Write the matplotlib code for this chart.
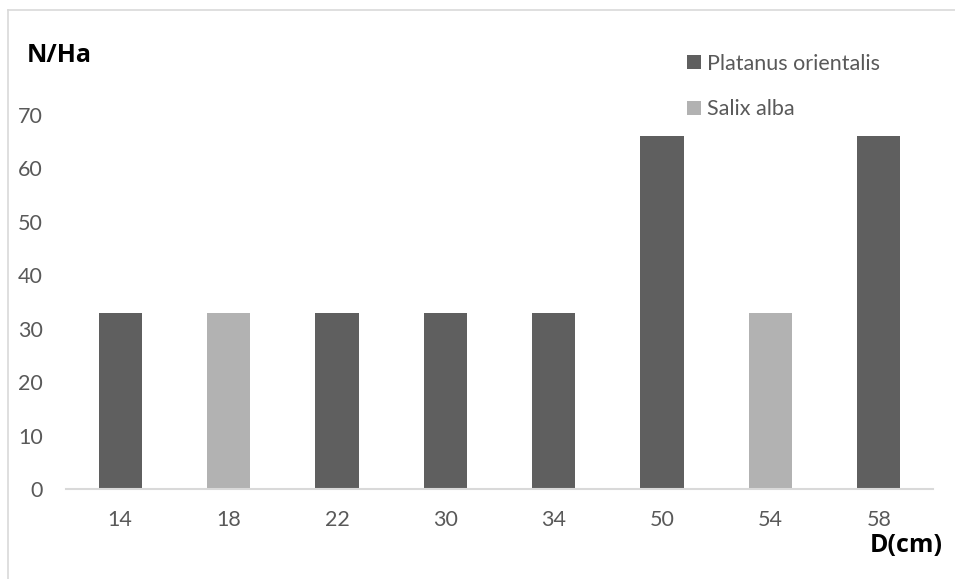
import matplotlib
matplotlib.use("Agg")
import matplotlib.pyplot as plt
from matplotlib.patches import Patch
from matplotlib.lines import Line2D

plt.rcParams['font.family'] = ['Lato', 'DejaVu Sans']

diameters = ["14", "18", "22", "30", "34", "50", "54", "58"]
platanus = [33, 0, 33, 33, 33, 66, 0, 66]
salix = [0, 33, 0, 0, 0, 0, 33, 0]
series_names = ["Platanus orientalis", "Salix alba"]
yticks = [0, 10, 20, 30, 40, 50, 60, 70]

dark = "#5f5f5f"
light = "#b2b2b2"
text_col = "#595959"

fig = plt.figure(figsize=(9.55, 5.79), dpi=100)
ax = fig.add_axes([66 / 955, 1 - 489 / 579, (933 - 66) / 955, (489 - 115) / 579])

x = list(range(len(diameters)))
ax.bar(x, platanus, width=0.4, color=dark, zorder=2)
ax.bar(x, salix, width=0.4, bottom=platanus, color=light, zorder=2)

ax.set_xlim(-0.5, len(diameters) - 0.5)
ax.set_ylim(0, 70)
ax.set_xticks(x)
ax.set_xticklabels(diameters)
ax.set_yticks(yticks)
ax.tick_params(axis='both', length=0, labelsize=15.5, labelcolor=text_col)
ax.tick_params(axis='y', pad=16.5)
ax.tick_params(axis='x', pad=15)
for side in ("top", "right", "left"):
    ax.spines[side].set_visible(False)
ax.spines["bottom"].set_color("#d9d9d9")
ax.spines["bottom"].set_linewidth(1.5)

# axis titles
title_font = dict(family=["Open Sans", "DejaVu Sans"], fontsize=18,
                  fontweight="bold", color="black")
fig.text(27 / 955, 1 - 55 / 579, "N/Ha", ha="left", va="center", **title_font)
fig.text(943 / 955, 1 - 546 / 579, "D(cm)", ha="right", va="center", **title_font)

# legend
handles = [Patch(facecolor=dark), Patch(facecolor=light)]
leg = fig.legend(handles, series_names, loc="upper left",
                 bbox_to_anchor=(678 / 955, 1 - 45 / 579), frameon=False,
                 fontsize=15.5, labelcolor=text_col, handlelength=0.65,
                 handleheight=0.65, handletextpad=0.3, labelspacing=1.2,
                 borderaxespad=0)

# chart frame (top and left edges visible)
frame_col = "#d9d9d9"
fig.add_artist(Line2D([8 / 955, 8 / 955], [0, 1 - 10 / 579],
                      transform=fig.transFigure, color=frame_col, lw=1.2))
fig.add_artist(Line2D([8 / 955, 1], [1 - 10 / 579, 1 - 10 / 579],
                      transform=fig.transFigure, color=frame_col, lw=1.2))

fig.savefig("out.png", dpi=100)
